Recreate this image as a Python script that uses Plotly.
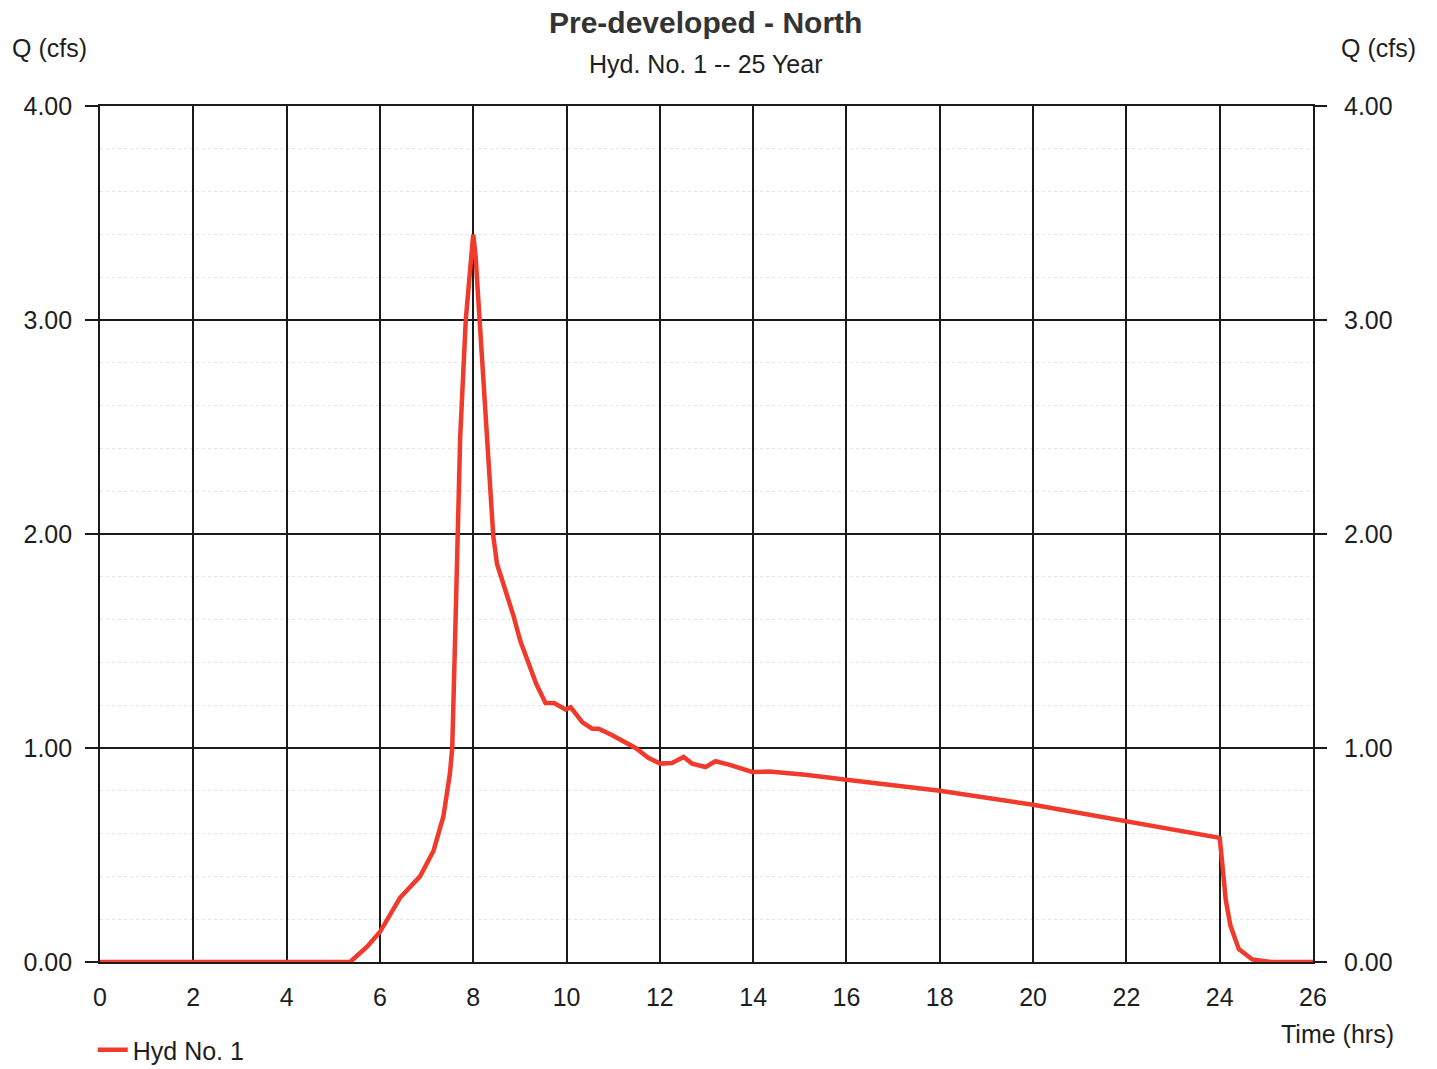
import plotly.graph_objects as go

# Hydrograph data (Time in hrs, Q in cfs)
time_hrs = [0.0, 5.36, 5.72, 6.0, 6.43, 6.65, 6.86, 7.15, 7.36, 7.5, 7.55, 7.61, 7.66, 7.72,
            7.84, 7.93, 8.0, 8.05, 8.14, 8.29, 8.43, 8.51, 8.7, 8.86, 9.01, 9.19, 9.35,
            9.55, 9.73, 9.98, 10.09, 10.34, 10.55, 10.69, 10.98, 11.48, 11.76, 12.01,
            12.26, 12.51, 12.69, 12.98, 13.19, 13.48, 13.98, 14.34, 15.12, 16.0, 18.0,
            20.0, 22.0, 24.0, 24.06, 24.13, 24.23, 24.41, 24.7, 25.1, 26.0]
q_cfs = [0.0, 0.0, 0.07, 0.14, 0.30, 0.35, 0.40, 0.52, 0.68, 0.88, 1.0, 1.5, 2.0, 2.45,
         3.0, 3.25, 3.40, 3.30, 2.97, 2.49, 1.99, 1.86, 1.73, 1.62, 1.50, 1.40, 1.30,
         1.21, 1.21, 1.18, 1.19, 1.12, 1.09, 1.09, 1.06, 1.00, 0.953, 0.927,
         0.93, 0.958, 0.927, 0.911, 0.938, 0.922, 0.888, 0.89, 0.875, 0.852, 0.80,
         0.735, 0.66, 0.58, 0.45, 0.29, 0.17, 0.06, 0.012, 0.0, 0.0]

x_ticks = list(range(0, 27, 2))
y_ticks = [0, 1, 2, 3, 4]
y_tick_labels = ["0.00", "1.00", "2.00", "3.00", "4.00"]

title_text = "Pre-developed - North"
subtitle_text = "Hyd. No. 1 -- 25 Year"
series_name = "Hyd No. 1"

FONT = "Arial, 'Liberation Sans', sans-serif"
TXT = "#1e1e1e"
GRID = "#1a1a1a"
FS = 25

fig = go.Figure()
fig.add_trace(go.Scatter(
    x=time_hrs, y=q_cfs, mode="lines", name=series_name,
    line=dict(color="#ef3a2c", width=4.5),
))

fig.update_layout(
    width=1437, height=1069,
    margin=dict(l=100, r=124, t=106, b=107, autoexpand=False),
    paper_bgcolor="white", plot_bgcolor="white",
    font=dict(family=FONT, size=FS, color=TXT),
    showlegend=True,
    legend=dict(orientation="h", x=-0.006, xanchor="left", y=-0.076, yanchor="top",
                font=dict(size=FS, color=TXT), bgcolor="rgba(0,0,0,0)",
                tracegroupgap=0, borderwidth=0),
    xaxis=dict(
        range=[0, 26], tickvals=x_ticks, ticktext=[str(v) for v in x_ticks],
        showgrid=True, gridcolor=GRID, gridwidth=1.6,
        showline=True, linecolor=GRID, linewidth=1.6, mirror=True,
        ticks="", ticklabelstandoff=12, zeroline=False,
        tickfont=dict(size=FS, color=TXT),
    ),
    yaxis=dict(
        range=[0, 4], tickvals=y_ticks, ticktext=y_tick_labels,
        showgrid=True, gridcolor=GRID, gridwidth=1.6,
        showline=True, linecolor=GRID, linewidth=1.6, mirror=True,
        ticks="outside", ticklen=13, tickcolor=GRID, tickwidth=1.6,
        ticklabelstandoff=8, zeroline=False,
        tickfont=dict(size=FS, color=TXT),
        minor=dict(dtick=0.2, showgrid=True, gridcolor="#e4e4e4", gridwidth=1, griddash="dot"),
    ),
    yaxis2=dict(
        range=[0, 4], tickvals=y_ticks, ticktext=y_tick_labels,
        overlaying="y", side="right", showgrid=False, zeroline=False,
        ticks="outside", ticklen=13, tickcolor=GRID, tickwidth=1.6,
        ticklabelstandoff=12, showline=False,
        tickfont=dict(size=FS, color=TXT),
    ),
    annotations=[
        dict(text=f"<b>{title_text}</b>", xref="paper", yref="paper", x=0.4988, y=1.098,
             xanchor="center", yanchor="middle", showarrow=False, font=dict(size=30, color="#333333")),
        dict(text=subtitle_text, xref="paper", yref="paper", x=0.4988, y=1.049,
             xanchor="center", yanchor="middle", showarrow=False, font=dict(size=FS, color=TXT)),
        dict(text="Q (cfs)", xref="paper", yref="paper", x=-0.0742, y=1.0678,
             xanchor="left", yanchor="middle", showarrow=False, font=dict(size=FS, color=TXT)),
        dict(text="Q (cfs)", xref="paper", yref="paper", x=1.0866, y=1.0678,
             xanchor="right", yanchor="middle", showarrow=False, font=dict(size=FS, color=TXT)),
        dict(text="Time (hrs)", xref="paper", yref="paper", x=1.0684, y=-0.0841,
             xanchor="right", yanchor="middle", showarrow=False, font=dict(size=FS, color=TXT)),
    ],
)

# empty trace so the mirrored right-hand Q axis is rendered
fig.add_trace(go.Scatter(x=[None], y=[None], yaxis="y2", showlegend=False, hoverinfo="skip"))

fig.write_html("out.html")
